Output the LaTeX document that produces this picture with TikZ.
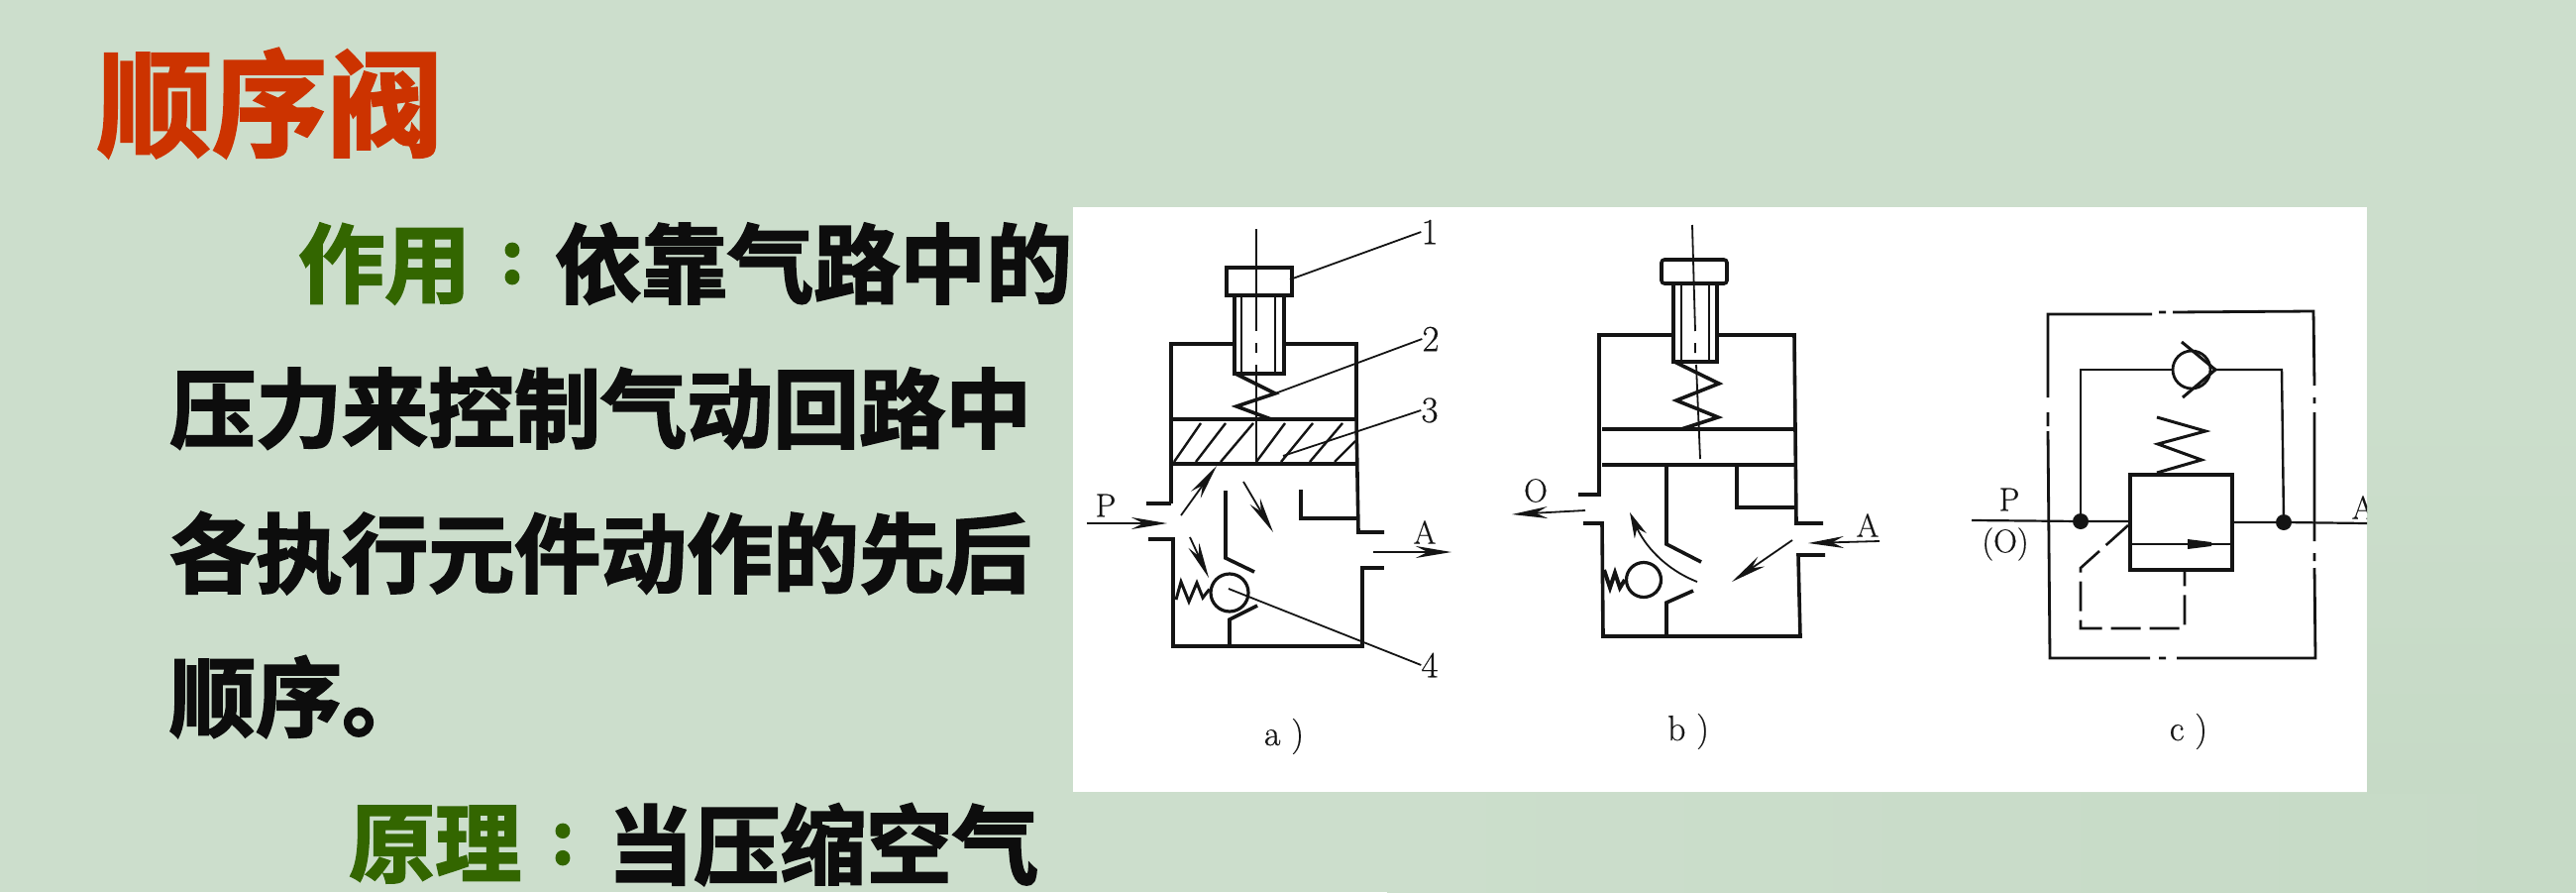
\documentclass[tikz,border=0pt]{standalone}
\usepackage{fontspec}
\usetikzlibrary{arrows.meta}
\setmainfont{Latin Modern Roman}
\newfontfamily\cjkheavy[FakeBold=2.3]{Noto Sans CJK SC Bold}
\newfontfamily\labelfont[FakeBold=0.5]{Latin Modern Roman}
\definecolor{slidebg}{HTML}{CCDECC}
\definecolor{slideshade}{HTML}{C6DAC6}
\definecolor{titlered}{HTML}{CC3300}
\definecolor{headgreen}{HTML}{336600}
\definecolor{bodyblack}{HTML}{0D0D0D}
\definecolor{inkgray}{HTML}{141414}
\tikzset{
  titletext/.style={anchor=west,inner sep=0pt,text=titlered,font=\cjkheavy\fontsize{116}{116}\selectfont},
  bodytext/.style={anchor=west,inner sep=0pt,text=bodyblack,font=\cjkheavy\fontsize{87}{87}\selectfont},
  headtext/.style={anchor=west,inner sep=0pt,text=headgreen,font=\cjkheavy\fontsize{87}{87}\selectfont},
  coltext/.style={inner sep=0pt,text=headgreen,font=\cjkheavy\fontsize{72}{72}\selectfont},
  wall/.style={draw=inkgray,line width=3.6pt,line join=miter},
  thinwall/.style={draw=inkgray,line width=2.4pt},
  leader/.style={draw=inkgray,line width=1.8pt},
  flow/.style={draw=inkgray,line width=1.8pt,-{Stealth[length=36pt,width=12pt]}},
  numtext/.style={inner sep=0pt,text=inkgray,font=\labelfont\fontsize{37}{37}\selectfont},
  porttext/.style={inner sep=0pt,text=inkgray,font=\labelfont\fontsize{33}{33}\selectfont},
  captext/.style={inner sep=0pt,text=inkgray,font=\labelfont\fontsize{36}{36}\selectfont},
}
\begin{document}
\begin{tikzpicture}[x=1pt,y=-1pt]
  \useasboundingbox (0,0) rectangle (2600,900);
  \fill[slidebg] (0,0) rectangle (2600,900);
  \shade[left color=slidebg,right color=slideshade] (1400,800) rectangle (2600,900);
  \shade[top color=slidebg,bottom color=slideshade] (2389,400) rectangle (2600,800);

  % slide text
  \node[titletext] (title) at (98,104) {顺序阀};
  \node[headtext] (usehead) at (301,266) {作用};
  \node[coltext] (usecol) at (517,266) {:};
  \node[bodytext] (useline) at (560,266) {依靠气路中的};
  \node[bodytext] (lineb) at (171,412) {压力来控制气动回路中};
  \node[bodytext] (linec) at (171,558) {各执行元件动作的先后};
  \node[bodytext] (lined) at (171,703) {顺序。};
  \node[headtext] (rulehead) at (352,852) {原理};
  \node[coltext] (rulecol) at (568,852) {:};
  \node[bodytext] (ruleline) at (613,852) {当压缩空气};

  % figure sheet
  \fill[white] (1083,209) rectangle (2389,799);

  % a) valve
  \draw[leader] (1268,231) -- (1268,334) (1268,346) -- (1268,356) (1268,368) -- (1268,468);
  \draw[wall] (1238,270) rectangle (1304,298);
  \draw[wall] (1246,298) -- (1246,377) -- (1296,377) -- (1296,298);
  \draw[thinwall] (1253,298) -- (1253,377) (1287,298) -- (1287,377);
  \draw[wall] (1182,508) -- (1182,347) -- (1246,347) (1296,347) -- (1369,347) -- (1369,423);
  \draw[wall] (1183,423) -- (1369,423) (1369,423) -- (1371,537) -- (1397,537);
  \draw[wall] (1183,468) -- (1369,468);
  \draw[wall] (1157,508) -- (1182,508);
  \draw[wall] (1159,544) -- (1184,544) -- (1184,652) -- (1375,652) -- (1375,573) -- (1397,573);
  \foreach \xa/\xb/\yb in {1185/1212/427,1207/1237/427,1232/1265/427,1268/1297/427,1293/1325/427,1322/1355/427,1347/1368/445}
    \draw[thinwall] (\xa,466) -- (\xb,\yb);
  \draw[wall] (1245,376) -- (1287,397) -- (1248,410) -- (1283,423);
  \draw[wall] (1313,494) -- (1313,523) -- (1372,523);
  \draw[wall] (1237,495) -- (1237,563) -- (1266,577);
  \draw[wall] (1269,611) -- (1241,625) -- (1241,652);
  \node[draw=inkgray,line width=3.2pt,circle,minimum size=38pt,inner sep=0pt] (balla) at (1241,598) {};
  \draw[wall,line width=3pt] (1187,605) -- (1192,587) -- (1200,607) -- (1208,588) -- (1214,603) -- (balla.170);
  \coordinate (pina) at (1097,528);
  \coordinate (pinb) at (1178,528);
  \coordinate (aouta) at (1386,557);
  \coordinate (aoutb) at (1465,557);
  \draw[flow] (pina) -- (pinb);
  \draw[flow] (aouta) -- (aoutb);
  \draw[flow] (1192,520) -- (1228,470);
  \draw[flow] (1255,486) -- (1285,537);
  \draw[flow] (1201,542) -- (1220,583);
  \node[porttext] (pa) at (1116,510) {P};
  \node[porttext] (aa) at (1438,537) {A};
  \node[numtext] (n1) at (1443,234) {1};
  \node[numtext] (n2) at (1444,342) {2};
  \node[numtext] (n3) at (1443,414) {3};
  \node[numtext] (n4) at (1443,671) {4};
  \draw[leader] (1302,282) -- (n1.west);
  \draw[leader] (1287,397) -- (n2.west);
  \draw[leader] (1295,460) -- (n3.west);
  \draw[leader] (1240,594) -- (n4.west);
  \node[captext] (capa) at (1296,743) {a )};

  % b) valve
  \draw[leader] (1708,227) -- (1711,334) (1711,346) -- (1711,356) (1712,368) -- (1716,463);
  \draw[wall,rounded corners=3pt] (1677,262) rectangle (1743,286);
  \draw[wall] (1689,286) -- (1689,365) -- (1733,365) -- (1733,286);
  \draw[thinwall] (1697,286) -- (1697,365) (1725,286) -- (1725,365);
  \draw[wall] (1614,499) -- (1614,338) -- (1689,338) (1733,338) -- (1811,338) -- (1813,528) -- (1840,528);
  \draw[wall] (1617,433) -- (1813,433);
  \draw[wall] (1617,469) -- (1813,469);
  \draw[wall] (1593,499) -- (1616,499);
  \draw[wall] (1598,528) -- (1617,528) -- (1618,642) -- (1817,642) -- (1815,560) -- (1842,560);
  \draw[wall] (1690,365) -- (1735,387) -- (1692,404) -- (1734,421) -- (1697,433);
  \draw[wall] (1682,470) -- (1682,549) -- (1717,567);
  \draw[wall] (1753,470) -- (1753,512) -- (1813,512);
  \draw[wall] (1709,596) -- (1682,608) -- (1682,642);
  \node[draw=inkgray,line width=3.2pt,circle,minimum size=35pt,inner sep=0pt] (ballb) at (1659,585) {};
  \draw[wall,line width=4pt] (1619,575) -- (1625,593) -- (1630,578) -- (1635,593) -- (ballb.west);
  \coordinate (oouta) at (1600,515);
  \coordinate (ooutb) at (1526,519);
  \coordinate (ainb) at (1897,546);
  \coordinate (ainc) at (1825,548);
  \draw[flow] (oouta) -- (ooutb);
  \draw[flow] (ainb) -- (ainc);
  \draw[flow] (1809,545) -- (1748,587);
  \draw[flow,-{Stealth[length=26pt,width=13pt]}] (1713,587) .. controls (1680,574) and (1660,550) .. (1645,517);
  \node[porttext] (ob) at (1550,495) {O};
  \node[porttext] (ab) at (1885,530) {A};
  \node[captext] (capb) at (1704,738) {b )};

  % c) symbol
  \draw[thinwall,line width=2.8pt] (2172,317) -- (2067,317) -- (2067,401) (2067,416) -- (2067,430) (2067,435) -- (2069,664) -- (2170,664);
  \draw[thinwall,line width=2.8pt] (2179,664) -- (2186,664) (2197,664) -- (2337,664) -- (2336,573) (2336,558) -- (2336,566) (2336,546) -- (2336,416) (2336,401) -- (2336,407) (2336,389) -- (2335,314) -- (2193,315) (2186,315) -- (2179,315);
  \node[fill=inkgray,circle,minimum size=16pt,inner sep=0pt] (dotl) at (2100,526) {};
  \node[fill=inkgray,circle,minimum size=16pt,inner sep=0pt] (dotr) at (2305,527) {};
  \node[draw=inkgray,line width=4pt,minimum width=103pt,minimum height=96pt,inner sep=0pt] (spool) at (2201.5,527) {};
  \node[draw=inkgray,line width=2.8pt,circle,minimum size=38pt,inner sep=0pt] (check) at (2212,373) {};
  \coordinate (checktip) at (2236,373);
  \draw[leader,line width=2.2pt] (1990,525) -- (dotl) -- (spool.west |- dotl);
  \draw[leader,line width=2.2pt] (spool.east |- dotr) -- (dotr) -- (2389,528);
  \draw[leader,line width=2.4pt] (dotl) -- (2100,373) -- (check.west);
  \draw[leader,line width=2.4pt] (checktip) -- (2303,373) -- (dotr);
  \draw[thinwall,line width=3pt] (2202,345) -- (checktip) -- (2203,401);
  \draw[thinwall,line width=3pt] (2177,477) -- (2222,464) -- (2178,448) -- (2226,435) -- (2177,421);
  \draw[thinwall] (2150,549) -- (2253,549);
  \fill[inkgray] (2208,544) -- (2232,547) -- (2232,551) -- (2208,554) -- cycle;
  \draw[thinwall,line width=2.6pt,dash pattern=on 30pt off 9pt] (2148,530) -- (2100,573) -- (2100,634) -- (2205,634) -- (2205,577);
  \node[porttext] (pc) at (2028,504) {P};
  \node[porttext] (oc) at (2024,549) {(O)};
  \begin{scope}
    \clip (1083,209) rectangle (2389,799);
    \node[porttext] (ac) at (2385,512) {A};
  \end{scope}
  \node[captext] (capc) at (2209,738) {c )};
\end{tikzpicture}
\end{document}
